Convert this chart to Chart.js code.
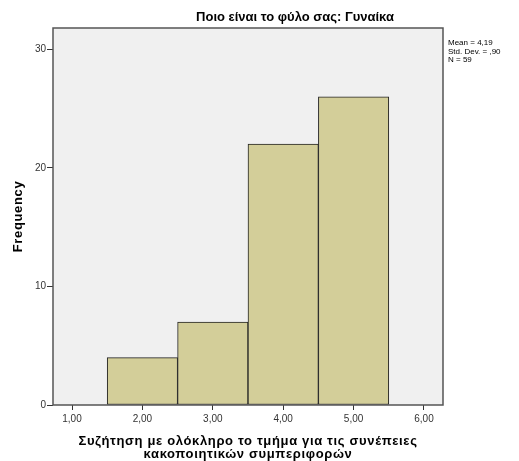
<!DOCTYPE html>
<html>
<head>
<meta charset="utf-8">
<script src="https://cdn.jsdelivr.net/npm/chart.js@4.4.1/dist/chart.umd.min.js"></script>
<style>
    html, body { margin: 0; padding: 0; background: #fff; }
    #chartHistograma { display: block; }
</style>
</head>
<body>
<canvas id="chartHistograma" width="519" height="461"></canvas>
<script>
const centrosBins = [2, 3, 4, 5];
const frecuencias = [4, 7, 22, 26];
const ticksX = [1, 2, 3, 4, 5, 6];
const ticksY = [0, 10, 20, 30];
const titulo = 'Ποιο είναι το φύλο σας: Γυναίκα';
const tituloX = ['Συζήτηση με ολόκληρο το τμήμα για τις συνέπειες', 'κακοποιητικών συμπεριφορών'];
const tituloY = 'Frequency';
const estadisticas = ['Mean = 4,19', 'Std. Dev. = ,90', 'N = 59'];

const fuente = 'Arial, "Liberation Sans", sans-serif';

// fondo, marco, títulos y estadísticas al estilo SPSS
const marcoPlot = {
    id: 'marcoPlot',
    beforeDraw(chart) {
        const { ctx, chartArea: a } = chart;
        ctx.save();
        ctx.fillStyle = '#f0f0f0';
        ctx.fillRect(a.left, a.top, a.right - a.left, a.bottom - a.top);
        ctx.restore();
    },
    afterDraw(chart) {
        const { ctx, chartArea: a } = chart;
        const centroX = (a.left + a.right) / 2;
        const centroY = (a.top + a.bottom) / 2;

        ctx.save();
        ctx.strokeStyle = '#555';
        ctx.lineWidth = 1.5;
        ctx.strokeRect(a.left, a.top, a.right - a.left, a.bottom - a.top);

        ctx.fillStyle = '#000';
        ctx.textAlign = 'center';
        ctx.textBaseline = 'middle';

        ctx.font = 'bold 13px ' + fuente;
        ctx.letterSpacing = '0px';
        ctx.fillText(titulo, 295, 17);

        ctx.letterSpacing = '0.65px';
        tituloX.forEach((linea, i) => {
            ctx.fillText(linea, centroX, 441 + i * 13);
        });

        ctx.save();
        ctx.translate(18, centroY);
        ctx.rotate(-Math.PI / 2);
        ctx.fillText(tituloY, 0, 0);
        ctx.restore();

        ctx.letterSpacing = '0px';
        ctx.font = '8px ' + fuente;
        ctx.textAlign = 'left';
        estadisticas.forEach((linea, i) => {
            ctx.fillText(linea, a.right + 5, 43 + i * 8.3);
        });
        ctx.restore();
    }
};

new Chart(document.getElementById('chartHistograma'), {
    type: 'bar',
    data: {
        datasets: [{
            label: 'Frequency',
            data: centrosBins.map((c, i) => ({ x: c, y: frecuencias[i] })),
            backgroundColor: '#d3ce99',
            borderColor: '#222',
            borderWidth: 1,
            borderSkipped: false,
            barPercentage: 1,
            categoryPercentage: 1
        }]
    },
    options: {
        responsive: false,
        animation: false,
        devicePixelRatio: 1,
        layout: { padding: { left: 0, right: 76, top: 28, bottom: 0 } },
        plugins: {
            legend: { display: false },
            tooltip: { enabled: false }
        },
        scales: {
            x: {
                type: 'linear',
                offset: false,
                min: 0.73,
                max: 6.27,
                afterBuildTicks: s => { s.ticks = ticksX.map(v => ({ value: v })); },
                afterFit: s => { s.height = 56; },
                grid: {
                    offset: false,
                    drawOnChartArea: false,
                    drawTicks: true,
                    tickLength: 5,
                    color: '#333'
                },
                border: { display: false },
                ticks: {
                    padding: 3,
                    color: '#333',
                    font: { family: fuente, size: 10 },
                    maxRotation: 0,
                    callback: v => v.toFixed(2).replace('.', ',')
                }
            },
            y: {
                min: 0,
                max: 31.8,
                afterBuildTicks: s => { s.ticks = ticksY.map(v => ({ value: v })); },
                afterFit: s => { s.width = 53; },
                grid: {
                    drawOnChartArea: false,
                    drawTicks: true,
                    tickLength: 6,
                    color: '#333'
                },
                border: { display: false },
                ticks: {
                    padding: 1,
                    color: '#333',
                    font: { family: fuente, size: 10 }
                }
            }
        }
    },
    plugins: [marcoPlot]
});
</script>
</body>
</html>
